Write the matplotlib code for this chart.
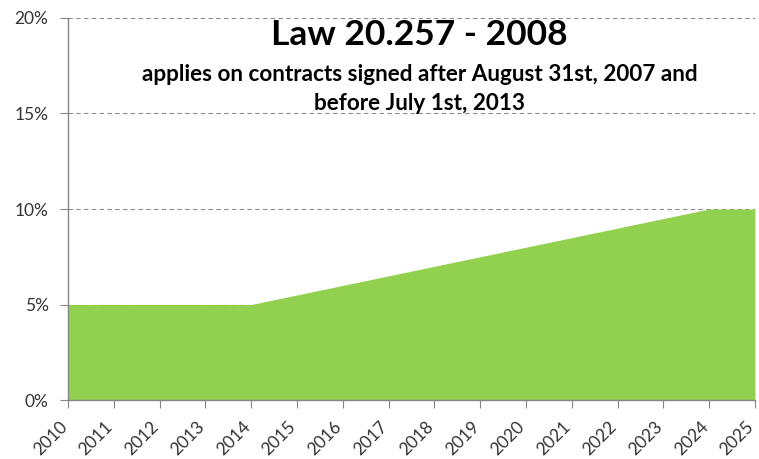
import numpy as np
import matplotlib
matplotlib.use("Agg")
import matplotlib.pyplot as plt
from matplotlib.ticker import FuncFormatter

# --- data: contribution rate by year ---
years = [2010, 2011, 2012, 2013, 2014, 2015, 2016, 2017,
         2018, 2019, 2020, 2021, 2022, 2023, 2024, 2025]
rate = [5.0, 5.0, 5.0, 5.0, 5.0, 5.5, 6.0, 6.5,
        7.0, 7.5, 8.0, 8.5, 9.0, 9.5, 10.0, 10.0]
y_ticks = [0, 5, 10, 15, 20]

title_main = "Law 20.257 - 2008"
title_sub_1 = "applies on contracts signed after August 31st, 2007 and"
title_sub_2 = "before July 1st, 2013"

plt.rcParams['font.family'] = ['Lato', 'DejaVu Sans']

fig = plt.figure(figsize=(7.59, 4.59), dpi=100)
ax = fig.add_axes([0.0896, 0.1285, 0.905, 0.8323])

ax.fill_between(years, 0, rate, color='#92D050', linewidth=0, zorder=2)

ax.set_xlim(years[0], years[-1])
ax.set_ylim(0, 20)
ax.set_yticks(y_ticks)
ax.yaxis.set_major_formatter(FuncFormatter(lambda v, p: f"{int(v)}%"))
ax.set_xticks(years)
ax.set_xticklabels([str(y) for y in years], rotation=45, ha='right',
                   va='baseline', rotation_mode='anchor')

ax.grid(axis='y', linestyle=(0, (4, 3)), color='#8c8c8c', linewidth=0.8, zorder=1)
ax.set_axisbelow(True)

for side in ['top', 'right']:
    ax.spines[side].set_visible(False)
for side in ['left', 'bottom']:
    ax.spines[side].set_color('#868686')
    ax.spines[side].set_linewidth(1.0)
    ax.spines[side].set_zorder(3)

ax.tick_params(axis='y', length=6, color='#868686', labelsize=12.5,
               labelcolor='#333333', pad=8)
ax.tick_params(axis='x', length=6, color='#868686', labelsize=12.5,
               labelcolor='#333333', pad=14)

fig.text(0.553, 0.902, title_main, ha='center', va='baseline',
         fontsize=25.5, fontweight='bold', color='black')
fig.text(0.553, 0.8235, title_sub_1, ha='center', va='baseline',
         fontsize=16.2, fontweight='bold', color='black')
fig.text(0.553, 0.7603, title_sub_2, ha='center', va='baseline',
         fontsize=16.2, fontweight='bold', color='black')

fig.savefig("out.png", dpi=100)
